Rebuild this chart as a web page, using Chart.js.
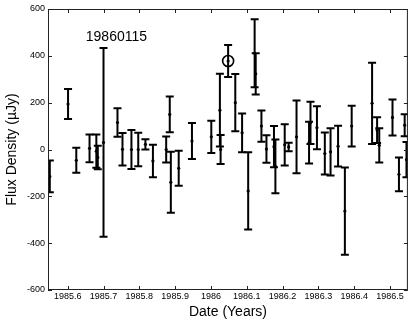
<!DOCTYPE html>
<html>
<head>
<meta charset="utf-8">
<script src="https://cdn.jsdelivr.net/npm/chart.js@4/dist/chart.umd.min.js"></script>
<style>
  html, body { margin: 0; padding: 0; background: #fff; }
  #wrap { width: 415px; height: 322px; }
</style>
</head>
<body>
<div id="wrap"><canvas id="myChart" width="415" height="322"></canvas></div>
<script>
// observation dates (decimal years)
const dates = [1985.550, 1985.601, 1985.624, 1985.661, 1985.680, 1985.684, 1985.700, 1985.739, 1985.753,
  1985.778, 1985.797, 1985.817, 1985.838, 1985.875, 1985.885, 1985.888, 1985.910, 1985.947, 1986.001,
  1986.025, 1986.027, 1986.048, 1986.068, 1986.087, 1986.104, 1986.122, 1986.125, 1986.141, 1986.155,
  1986.176, 1986.180, 1986.206, 1986.217, 1986.239, 1986.274, 1986.278, 1986.296, 1986.318, 1986.334,
  1986.355, 1986.374, 1986.393, 1986.450, 1986.464, 1986.470, 1986.507, 1986.525, 1986.541, 1986.546];
// flux density, microJy
const flux = [-115, 194, -46, 5, -7, -34, 30, 115, 1,
  0, 0, 22, -49, 0, 150, -140, -80, 36, 54,
  168, 0, 378, 200, 71, -177, 411, 323, 100, 2,
  12, -72, 20, 11, 54, 29, 114, 93, -17, -10,
  14, -263, 100, 197, 83, 18, 137, -106, 104, -43];
// 1-sigma errors
const errs = [68, 64, 53, 59, 71, 50, 403, 61, 69,
  83, 72, 22, 69, 56, 76, 130, 75, 77, 69,
  155, 62, 68, 122, 83, 165, 145, 88, 67, 59,
  88, 115, 88, 18, 155, 89, 90, 92, 90, 101,
  87, 186, 87, 173, 55, 73, 77, 72, 47, 75];
const markedIndex = 21; // circled point
const xTicks = [1985.6, 1985.7, 1985.8, 1985.9, 1986.0, 1986.1, 1986.2, 1986.3, 1986.4, 1986.5];
const xTickLabels = ['1985.6', '1985.7', '1985.8', '1985.9', '1986', '1986.1', '1986.2', '1986.3', '1986.4', '1986.5'];
const yTicks = [-600, -400, -200, 0, 200, 400, 600];
const titleText = '19860115';
const titlePos = { x: 1985.736, y: 481 };

const FONT = '"Liberation Sans", Arial, Helvetica, sans-serif';

// error bars with caps, clipped to the plot box
const errorBars = {
  id: 'errorBars',
  afterDatasetsDraw(chart) {
    const { ctx, chartArea: a, scales: { x, y } } = chart;
    ctx.save();
    ctx.beginPath();
    ctx.rect(a.left, a.top, a.width, a.height);
    ctx.clip();
    ctx.strokeStyle = '#000';
    ctx.lineWidth = 2;
    dates.forEach((d, i) => {
      const px = x.getPixelForValue(d);
      const hi = y.getPixelForValue(flux[i] + errs[i]);
      const lo = y.getPixelForValue(flux[i] - errs[i]);
      ctx.beginPath();
      ctx.moveTo(px, hi); ctx.lineTo(px, lo);
      ctx.moveTo(px - 4, hi); ctx.lineTo(px + 4, hi);
      ctx.moveTo(px - 4, lo); ctx.lineTo(px + 4, lo);
      ctx.stroke();
    });
    ctx.restore();
  }
};

// box around plot with inward ticks, plus the in-plot label
const frame = {
  id: 'frame',
  afterDraw(chart) {
    const { ctx, chartArea: a, scales: { x, y } } = chart;
    ctx.save();
    ctx.strokeStyle = '#222';
    ctx.lineWidth = 1;
    ctx.strokeRect(a.left + 0.5, a.top + 0.5, a.width - 1, a.height - 1);
    ctx.beginPath();
    xTicks.forEach(v => {
      const px = Math.round(x.getPixelForValue(v)) + 0.5;
      ctx.moveTo(px, a.bottom); ctx.lineTo(px, a.bottom - 4);
      ctx.moveTo(px, a.top); ctx.lineTo(px, a.top + 4);
    });
    yTicks.forEach(v => {
      const py = Math.round(y.getPixelForValue(v)) + 0.5;
      ctx.moveTo(a.left, py); ctx.lineTo(a.left + 4, py);
      ctx.moveTo(a.right, py); ctx.lineTo(a.right - 4, py);
    });
    ctx.stroke();
    ctx.fillStyle = '#000';
    ctx.font = '14px ' + FONT;
    ctx.textAlign = 'center';
    ctx.textBaseline = 'middle';
    ctx.fillText(titleText, x.getPixelForValue(titlePos.x), y.getPixelForValue(titlePos.y));
    ctx.restore();
  }
};

const config = {
  type: 'scatter',
  data: {
    datasets: [{
      label: 'flux',
      data: dates.map((d, i) => ({ x: d, y: flux[i] })),
      pointRadius: 1.6,
      pointBackgroundColor: '#000',
      pointBorderWidth: 0
    }, {
      label: 'marked',
      data: [{ x: dates[markedIndex], y: flux[markedIndex] }],
      pointRadius: 5.5,
      pointBorderWidth: 1.6,
      pointBorderColor: '#000',
      pointBackgroundColor: 'rgba(0,0,0,0)'
    }]
  },
  options: {
    responsive: false,
    animation: false,
    events: [],
    layout: { padding: { top: 9, right: 7, left: 0, bottom: 0 } },
    plugins: { legend: { display: false }, tooltip: { enabled: false } },
    scales: {
      x: {
        type: 'linear',
        min: 1985.545,
        max: 1986.55,
        afterBuildTicks: s => { s.ticks = xTicks.map(v => ({ value: v })); },
        afterFit: s => { s.height = 32; },
        grid: { display: false, drawTicks: false },
        border: { display: false },
        ticks: {
          padding: 1,
          color: '#000',
          font: { family: FONT, size: 9 },
          maxRotation: 0,
          autoSkip: false,
          callback: (v, i) => xTickLabels[i]
        },
        title: {
          display: true,
          text: 'Date (Years)',
          color: '#000',
          font: { family: FONT, size: 14 },
          padding: { top: 0, bottom: 1 }
        }
      },
      y: {
        min: -600,
        max: 600,
        afterBuildTicks: s => { s.ticks = yTicks.map(v => ({ value: v })); },
        afterFit: s => { s.width = 48; },
        grid: { display: false, drawTicks: false },
        border: { display: false },
        ticks: {
          padding: 3,
          color: '#000',
          font: { family: FONT, size: 9 },
          callback: v => String(v)
        },
        title: {
          display: true,
          text: 'Flux Density (µJy)',
          color: '#000',
          font: { family: FONT, size: 14 },
          padding: { top: 4, bottom: 0 }
        }
      }
    }
  },
  plugins: [errorBars, frame]
};

new Chart(document.getElementById('myChart'), config);
</script>
</body>
</html>
